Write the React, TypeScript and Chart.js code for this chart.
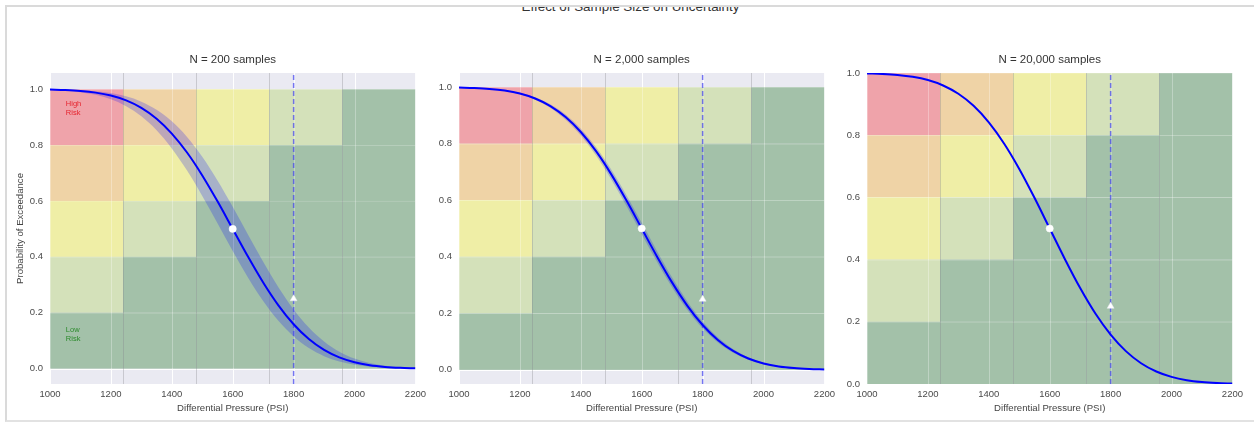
import { useEffect, useRef } from "react";
import { Chart, registerables } from "chart.js";

Chart.register(...registerables);

// ---- data ----------------------------------------------------------------
const PRESSURE = [
  1000, 1050, 1100, 1150, 1200, 1250, 1300, 1350, 1400, 1450, 1500, 1550, 1600,
  1650, 1700, 1750, 1800, 1850, 1900, 1950, 2000, 2050, 2100, 2150, 2200,
];

// probability that failure pressure exceeds the given differential pressure
const EXCEEDANCE = [
  0.9987, 0.997, 0.9938, 0.9878, 0.9773, 0.9599, 0.9332, 0.8944, 0.8413, 0.7734,
  0.6915, 0.5987, 0.5, 0.4013, 0.3085, 0.2266, 0.1587, 0.1057, 0.0668, 0.0401,
  0.0228, 0.0122, 0.0062, 0.003, 0.0013,
];

// confidence band, N = 200
const BAND_200_UPPER = [
  0.9993, 0.9984, 0.9965, 0.9929, 0.9861, 0.9744, 0.9554, 0.9265, 0.8849, 0.8289,
  0.758, 0.6736, 0.5793, 0.4801, 0.3821, 0.2912, 0.2119, 0.1469, 0.0968, 0.0606,
  0.0359, 0.0202, 0.0107, 0.0054, 0.0026,
];
const BAND_200_LOWER = [
  0.9974, 0.9946, 0.9893, 0.9798, 0.9641, 0.9394, 0.9032, 0.8531, 0.7881, 0.7088,
  0.6179, 0.5199, 0.4207, 0.3264, 0.242, 0.1711, 0.1151, 0.0735, 0.0446, 0.0256,
  0.0139, 0.0071, 0.0035, 0.0016, 0.0007,
];

// confidence band, N = 2,000
const BAND_2000_UPPER = [
  0.9989, 0.9974, 0.9946, 0.9893, 0.9798, 0.9641, 0.9394, 0.9032, 0.8531, 0.7881,
  0.7088, 0.6179, 0.5199, 0.4207, 0.3264, 0.242, 0.1711, 0.1151, 0.0735, 0.0446,
  0.0256, 0.0139, 0.0071, 0.0035, 0.0016,
];
const BAND_2000_LOWER = [
  0.9984, 0.9965, 0.9929, 0.9861, 0.9744, 0.9554, 0.9265, 0.8849, 0.8289, 0.758,
  0.6736, 0.5793, 0.4801, 0.3821, 0.2912, 0.2119, 0.1469, 0.0968, 0.0606, 0.0359,
  0.0202, 0.0107, 0.0054, 0.0026, 0.0011,
];

const MEDIAN_PRESSURE = [1600];
const MEDIAN_PROB = [0.5];
const RATED_PRESSURE = [1800];
const RATED_PROB = [0.25];

const X_TICKS = [1000, 1200, 1400, 1600, 1800, 2000, 2200];
const Y_TICKS = [0, 0.2, 0.4, 0.6, 0.8, 1.0];

// risk matrix: columns along pressure, rows along probability (top row first)
const COL_EDGES = [1000, 1240, 1480, 1720, 1960, 2200];
const ROW_EDGES = [1.0, 0.8, 0.6, 0.4, 0.2, 0];
const RISK_MATRIX = [
  [0, 1, 2, 3, 4],
  [1, 2, 3, 4, 4],
  [2, 3, 4, 4, 4],
  [3, 4, 4, 4, 4],
  [4, 4, 4, 4, 4],
];
const RISK_COLORS = ["#efa3aa", "#efd3a6", "#efeea6", "#d4e1ba", "#a3c1a9"];

const SUBTITLES = ["N = 200 samples", "N = 2,000 samples", "N = 20,000 samples"];
const TITLE = "Effect of Sample Size on Uncertainty";

// ---- look ------------------------------------------------------------------
const FONT = "'Liberation Sans', Arial, Helvetica, sans-serif";

type PanelSpec = {
  subtitle: string;
  upper: number[] | null;
  lower: number[] | null;
  yMin: number;
  yMax: number;
  left: number;
  width: number;
  yAxisWidth: number;
  yTitle: boolean;
  riskLabels: boolean;
};

const PANELS: PanelSpec[] = [
  {
    subtitle: SUBTITLES[0],
    upper: BAND_200_UPPER,
    lower: BAND_200_LOWER,
    yMin: -0.055,
    yMax: 1.058,
    left: 8,
    width: 423,
    yAxisWidth: 42,
    yTitle: true,
    riskLabels: true,
  },
  {
    subtitle: SUBTITLES[1],
    upper: BAND_2000_UPPER,
    lower: BAND_2000_LOWER,
    yMin: -0.05,
    yMax: 1.05,
    left: 420,
    width: 420,
    yAxisWidth: 39,
    yTitle: false,
    riskLabels: false,
  },
  {
    subtitle: SUBTITLES[2],
    upper: null,
    lower: null,
    yMin: 0,
    yMax: 1,
    left: 830,
    width: 418,
    yAxisWidth: 37,
    yTitle: false,
    riskLabels: false,
  },
];

const CANVAS_TOP = 40;
const CANVAS_HEIGHT = 383;

// Lavender panel, white grid, risk cells and column dividers behind the data;
// panel heading centred over the plotting area
const riskBackground = {
  id: "riskBackground",
  beforeDatasetsDraw(chart: any, _args: any, opts: any) {
    const { ctx, chartArea: a } = chart;
    const x = chart.scales.x;
    const y = chart.scales.y;
    ctx.save();
    ctx.beginPath();
    ctx.rect(a.left, a.top, a.right - a.left, a.bottom - a.top);
    ctx.clip();

    ctx.fillStyle = "#eaeaf2";
    ctx.fillRect(a.left, a.top, a.right - a.left, a.bottom - a.top);

    const vline = (v: number, color: string) => {
      const px = Math.round(x.getPixelForValue(v)) + 0.5;
      ctx.strokeStyle = color;
      ctx.beginPath();
      ctx.moveTo(px, a.top);
      ctx.lineTo(px, a.bottom);
      ctx.stroke();
    };
    const hline = (v: number, color: string) => {
      const py = Math.round(y.getPixelForValue(v)) + 0.5;
      ctx.strokeStyle = color;
      ctx.beginPath();
      ctx.moveTo(a.left, py);
      ctx.lineTo(a.right, py);
      ctx.stroke();
    };

    ctx.lineWidth = 1;
    X_TICKS.forEach((v) => vline(v, "#ffffff"));
    Y_TICKS.forEach((v) => hline(v, "#ffffff"));

    RISK_MATRIX.forEach((row, r) => {
      row.forEach((level, c) => {
        const x0 = x.getPixelForValue(COL_EDGES[c]);
        const x1 = x.getPixelForValue(COL_EDGES[c + 1]);
        const y0 = y.getPixelForValue(ROW_EDGES[r]);
        const y1 = y.getPixelForValue(ROW_EDGES[r + 1]);
        ctx.fillStyle = RISK_COLORS[level];
        ctx.fillRect(x0, y0, x1 - x0, y1 - y0);
      });
    });

    X_TICKS.forEach((v) => vline(v, "rgba(255,255,255,0.3)"));
    Y_TICKS.forEach((v) => hline(v, "rgba(255,255,255,0.14)"));
    COL_EDGES.slice(1, -1).forEach((v) => vline(v, "rgba(110,110,120,0.28)"));

    if (opts && opts.labels) {
      ctx.font = `7.5px ${FONT}`;
      ctx.textAlign = "left";
      ctx.textBaseline = "middle";
      const lx = x.getPixelForValue(1052);
      ctx.fillStyle = "#e5242e";
      ctx.fillText("High", lx, y.getPixelForValue(0.947));
      ctx.fillText("Risk", lx, y.getPixelForValue(0.915));
      ctx.fillStyle = "#2b8a2b";
      ctx.fillText("Low", lx, y.getPixelForValue(0.138));
      ctx.fillText("Risk", lx, y.getPixelForValue(0.106));
    }
    ctx.restore();
  },
  afterDraw(chart: any, _args: any, opts: any) {
    const { ctx, chartArea: a } = chart;
    if (!opts || !opts.heading) return;
    ctx.save();
    ctx.font = `11.5px ${FONT}`;
    ctx.fillStyle = "#333333";
    ctx.textAlign = "center";
    ctx.textBaseline = "middle";
    ctx.fillText(opts.heading, (a.left + a.right) / 2, a.top - 13);
    ctx.restore();
  },
};

const toPoints = (ys: number[]) => PRESSURE.map((p, i) => ({ x: p, y: ys[i] }));

function Panel({ spec }: { spec: PanelSpec }) {
  const ref = useRef<HTMLCanvasElement | null>(null);

  useEffect(() => {
    if (!ref.current) return;
    const datasets: any[] = [
      {
        type: "scatter",
        data: MEDIAN_PRESSURE.map((p, i) => ({ x: p, y: MEDIAN_PROB[i] })),
        pointStyle: "circle",
        pointRadius: 3.6,
        backgroundColor: "#ffffff",
        borderColor: "#ffffff",
        borderWidth: 0.5,
        order: 0,
      },
      {
        type: "scatter",
        data: RATED_PRESSURE.map((p, i) => ({ x: p, y: RATED_PROB[i] })),
        pointStyle: "triangle",
        pointRadius: 4,
        backgroundColor: "#ffffff",
        borderColor: "rgba(235,235,245,1)",
        borderWidth: 0.5,
        order: 1,
      },
      {
        type: "line",
        data: toPoints(EXCEEDANCE),
        borderColor: "#0000ff",
        borderWidth: 2,
        pointRadius: 0,
        fill: false,
        cubicInterpolationMode: "monotone",
        order: 2,
      },
      {
        type: "line",
        data: [
          { x: RATED_PRESSURE[0], y: spec.yMin },
          { x: RATED_PRESSURE[0], y: spec.yMax },
        ],
        borderColor: "rgba(70,70,240,0.72)",
        borderWidth: 1.5,
        borderDash: [5, 3],
        pointRadius: 0,
        fill: false,
        order: 3,
      },
    ];
    if (spec.upper && spec.lower) {
      datasets.push(
        {
          type: "line",
          data: toPoints(spec.upper),
          borderWidth: 0,
          borderColor: "rgba(0,0,0,0)",
          pointRadius: 0,
          fill: "+1",
          backgroundColor: "rgba(0,0,255,0.21)",
          cubicInterpolationMode: "monotone",
          order: 4,
        },
        {
          type: "line",
          data: toPoints(spec.lower),
          borderWidth: 0,
          borderColor: "rgba(0,0,0,0)",
          pointRadius: 0,
          fill: false,
          cubicInterpolationMode: "monotone",
          order: 5,
        }
      );
    }

    const chart = new Chart(ref.current, {
      type: "line",
      data: { datasets },
      plugins: [riskBackground],
      options: {
        animation: false,
        responsive: false,
        devicePixelRatio: 1,
        events: [],
        layout: { padding: { top: 33, right: 14, bottom: 0, left: 0 } },
        plugins: {
          legend: { display: false },
          tooltip: { enabled: false },
          title: { display: false },
          riskBackground: { labels: spec.riskLabels, heading: spec.subtitle },
        } as any,
        scales: {
          x: {
            type: "linear",
            min: 1000,
            max: 2200,
            grid: { display: false, drawTicks: false },
            border: { display: false },
            ticks: {
              color: "#4a4a4a",
              font: { family: FONT, size: 9.5 },
              padding: 5,
              autoSkip: false,
              maxRotation: 0,
              callback: (v: any) => String(v),
            },
            afterBuildTicks: (s: any) => {
              s.ticks = X_TICKS.map((v) => ({ value: v }));
            },
            afterFit: (s: any) => {
              s.height = 39;
            },
            title: {
              display: true,
              text: "Differential Pressure (PSI)",
              color: "#444444",
              font: { family: FONT, size: 9.6 },
              padding: { top: 0, bottom: 9.2 },
            },
          },
          y: {
            type: "linear",
            min: spec.yMin,
            max: spec.yMax,
            grid: { display: false, drawTicks: false },
            border: { display: false },
            ticks: {
              color: "#4a4a4a",
              font: { family: FONT, size: 9.5 },
              padding: 7,
              autoSkip: false,
              callback: (v: any) => Number(v).toFixed(1),
            },
            afterBuildTicks: (s: any) => {
              s.ticks = Y_TICKS.map((v) => ({ value: v }));
            },
            afterFit: (s: any) => {
              s.width = spec.yAxisWidth;
            },
            title: {
              display: spec.yTitle,
              text: "Probability of Exceedance",
              color: "#444444",
              font: { family: FONT, size: 9.6 },
              padding: { top: 6.5, bottom: 0 },
            },
          },
        },
      } as any,
    });
    return () => chart.destroy();
  }, [spec]);

  return (
    <canvas
      ref={ref}
      width={spec.width}
      height={CANVAS_HEIGHT}
      style={{
        position: "absolute",
        left: spec.left,
        top: CANVAS_TOP,
        width: spec.width,
        height: CANVAS_HEIGHT,
      }}
    />
  );
}

export default function App() {
  return (
    <div
      style={{
        position: "absolute",
        left: 0,
        top: 0,
        width: 1254,
        height: 423,
        overflow: "hidden",
        background: "#ffffff",
        fontFamily: FONT,
      }}
    >
      <div
        style={{
          position: "absolute",
          left: 5,
          top: 5,
          width: 1249,
          height: 417,
          boxSizing: "border-box",
          borderTop: "2px solid #dadada",
          borderLeft: "2px solid #dadada",
          borderBottom: "2px solid #e2e2e2",
        }}
      />
      <div
        style={{
          position: "absolute",
          left: 7,
          top: 7,
          width: 1247,
          height: 20,
          overflow: "hidden",
        }}
      >
        <div
          style={{
            position: "absolute",
            left: 0,
            top: -8.4,
            width: "100%",
            textAlign: "center",
            fontSize: 13.4,
            lineHeight: "16px",
            color: "#333333",
            whiteSpace: "nowrap",
          }}
        >
          {TITLE}
        </div>
      </div>
      {PANELS.map((p) => (
        <Panel key={p.subtitle} spec={p} />
      ))}
    </div>
  );
}
